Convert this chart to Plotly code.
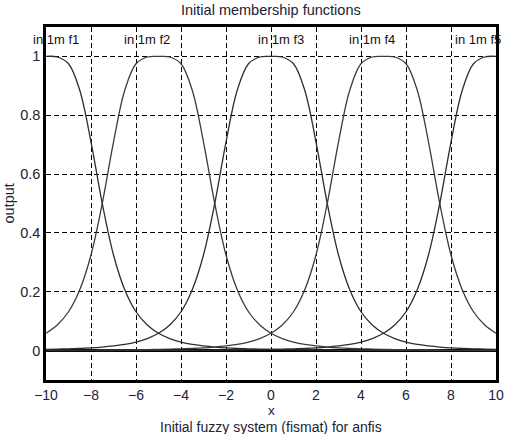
import plotly.graph_objects as go

# x samples
x = [-10 + 0.5 * i for i in range(41)]

# membership values
mf1 = [1.000,0.998,0.975,0.885,0.709,0.500,0.325,0.207,0.132,0.087,
       0.059,0.041,0.029,0.021,0.016,0.012,0.009,0.007,0.006,0.005,
       0.004,0.003,0.003,0.002,0.002,0.002,0.001,0.001,0.001,0.001,
       0.001,0.001,0.001,0.001,0.000,0.000,0.000,0.000,0.000,0.000,0.000]
mf2 = [0.059,0.087,0.132,0.207,0.325,0.500,0.709,0.885,0.975,0.998,
       1.000,
       0.998,0.975,0.885,0.709,0.500,0.325,0.207,0.132,0.087,0.059,
       0.041,0.029,0.021,0.016,0.012,0.009,0.007,0.006,0.005,0.004,
       0.003,0.003,0.002,0.002,0.002,0.001,0.001,0.001,0.001,0.001]
mf3 = [0.004,0.005,0.006,0.007,0.009,0.012,0.016,0.021,0.029,0.041,
       0.059,0.087,0.132,0.207,0.325,0.500,0.709,0.885,0.975,0.998,
       1.000,
       0.998,0.975,0.885,0.709,0.500,0.325,0.207,0.132,0.087,0.059,
       0.041,0.029,0.021,0.016,0.012,0.009,0.007,0.006,0.005,0.004]
mf4 = [0.001,0.001,0.001,0.001,0.001,0.002,0.002,0.002,0.003,0.003,
       0.004,0.005,0.006,0.007,0.009,0.012,0.016,0.021,0.029,0.041,
       0.059,0.087,0.132,0.207,0.325,0.500,0.709,0.885,0.975,0.998,
       1.000,
       0.998,0.975,0.885,0.709,0.500,0.325,0.207,0.132,0.087,0.059]
mf5 = [0.000,0.000,0.000,0.000,0.000,0.000,0.000,0.001,0.001,0.001,
       0.001,0.001,0.001,0.001,0.001,0.002,0.002,0.002,0.003,0.003,
       0.004,0.005,0.006,0.007,0.009,0.012,0.016,0.021,0.029,0.041,
       0.059,0.087,0.132,0.207,0.325,0.500,0.709,0.885,0.975,0.998,1.000]

mf_labels = ["in 1m f1", "in 1m f2", "in 1m f3", "in 1m f4", "in 1m f5"]
label_x = [-10.67, -6.62, -0.67, 3.38, 8.1]   # left edge of each label, in x units
label_y = 1.058

x_ticks = [-10, -8, -6, -4, -2, 0, 2, 4, 6, 8, 10]
y_ticks = [0, 0.2, 0.4, 0.6, 0.8, 1]
X_RANGE = [-10, 10]

TXT = "#1c2236"
FONT = "Liberation Sans, Arial, Helvetica, sans-serif"
FS = 14.5

fig = go.Figure()
for ys, col in zip([mf1, mf2, mf3, mf4, mf5],
                   ["#2e2e2e", "#3c3c3c", "#2e2e2e", "#3c3c3c", "#2e2e2e"]):
    fig.add_trace(go.Scatter(x=x, y=ys, mode="lines",
                             line=dict(color=col, width=1.3, shape="spline", smoothing=1.0),
                             showlegend=False, hoverinfo="skip"))

for lab, lx in zip(mf_labels, label_x):
    px = (lx - X_RANGE[0]) / (X_RANGE[1] - X_RANGE[0])
    fig.add_annotation(x=px, y=label_y, xref="paper", yref="y", text=lab,
                       showarrow=False, xanchor="left", yanchor="middle",
                       font=dict(size=13, color="#111111", family=FONT))

fig.add_annotation(xref="paper", yref="paper", x=0.5, y=0, yshift=-30,
                   text="x", showarrow=False, yanchor="middle",
                   font=dict(size=13.5, color=TXT, family=FONT))
fig.add_annotation(xref="paper", yref="paper", x=0.5, y=0, yshift=-46.5,
                   text="Initial fuzzy system (fismat) for anfis", showarrow=False,
                   yanchor="middle", font=dict(size=14, color=TXT, family=FONT))
fig.add_annotation(xref="paper", yref="paper", x=0, y=0.5, xshift=-38,
                   text="output", showarrow=False, textangle=-90,
                   xanchor="center", yanchor="middle",
                   font=dict(size=FS, color=TXT, family=FONT))
fig.add_annotation(xref="paper", yref="paper", x=0.5, y=1, yshift=17,
                   text="Initial membership functions", showarrow=False,
                   yanchor="middle", font=dict(size=FS, color=TXT, family=FONT))

fig.update_layout(
    width=507, height=434,
    margin=dict(l=46, r=11, t=27, b=54),
    paper_bgcolor="white", plot_bgcolor="white",
    font=dict(family=FONT, size=FS, color=TXT),
    xaxis=dict(range=X_RANGE, tickvals=x_ticks, ticks="", showgrid=True,
               gridcolor="black", griddash="5px,3px", gridwidth=1.3,
               zeroline=False, showline=True, linecolor="black", linewidth=2.5,
               mirror=True, automargin=False, ticklabelstandoff=0,
               tickfont=dict(size=14, color=TXT)),
    yaxis=dict(range=[-0.1, 1.1], tickvals=y_ticks, ticktext=["0", "0.2", "0.4", "0.6", "0.8", "1"],
               ticks="", showgrid=True, automargin=False,
               gridcolor="black", griddash="5px,3px", gridwidth=1.3,
               zeroline=True, zerolinecolor="black", zerolinewidth=2.5,
               showline=True, linecolor="black", linewidth=2.5,
               mirror=True, tickfont=dict(size=FS, color=TXT)),
)

fig.write_html("out.html")
